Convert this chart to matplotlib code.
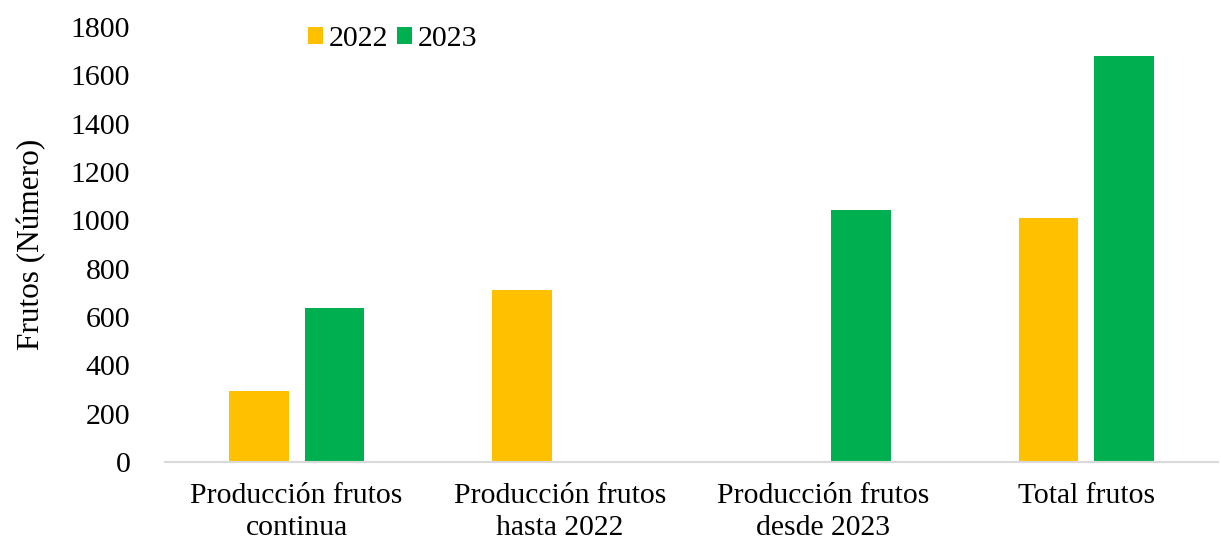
import matplotlib
matplotlib.use("Agg")
import matplotlib.pyplot as plt
import numpy as np

categories = ["Producción frutos\ncontinua", "Producción frutos\nhasta 2022",
              "Producción frutos\ndesde 2023", "Total frutos"]
series_names = ["2022", "2023"]
values_2022 = [295, 712, 0, 1008]
values_2023 = [637, 0, 1043, 1682]
yticks = [0, 200, 400, 600, 800, 1000, 1200, 1400, 1600, 1800]
colors = ["#FFC000", "#00B050"]

plt.rcParams["font.family"] = ["Liberation Serif", "DejaVu Serif"]

fig = plt.figure(figsize=(12.21, 5.43), dpi=100)
ax = fig.add_axes([165/1221, 1 - 462/543, (1218-165)/1221, (462-27)/543])

x = np.arange(len(categories))
w = 0.2276
off = 0.144
ax.bar(x - off, values_2022, w, color=colors[0], label=series_names[0])
ax.bar(x + off, values_2023, w, color=colors[1], label=series_names[1])

ax.set_xlim(-0.5, len(categories) - 0.5)
ax.set_ylim(0, 1800)
ax.set_yticks(yticks)
ax.set_yticklabels([str(t) for t in yticks], fontsize=21.5)
ax.set_xticks(x)
ax.set_xticklabels(categories, fontsize=21.3, linespacing=1.3)
ax.tick_params(axis="both", length=0)
ax.tick_params(axis="y", pad=25)
ax.tick_params(axis="x", pad=15)
for s in ["top", "right", "left"]:
    ax.spines[s].set_visible(False)
ax.spines["bottom"].set_color("#D9D9D9")
ax.spines["bottom"].set_linewidth(1.5)
ax.set_ylabel("Frutos (Número)", fontsize=22.5, labelpad=17.5)

ax.legend(loc="upper left", bbox_to_anchor=(0.11, 1.063), ncol=2, frameon=False,
          fontsize=21.5, handlelength=0.5, handleheight=0.5, handletextpad=0.2,
          columnspacing=0.3)

fig.savefig("out.png", dpi=100)
